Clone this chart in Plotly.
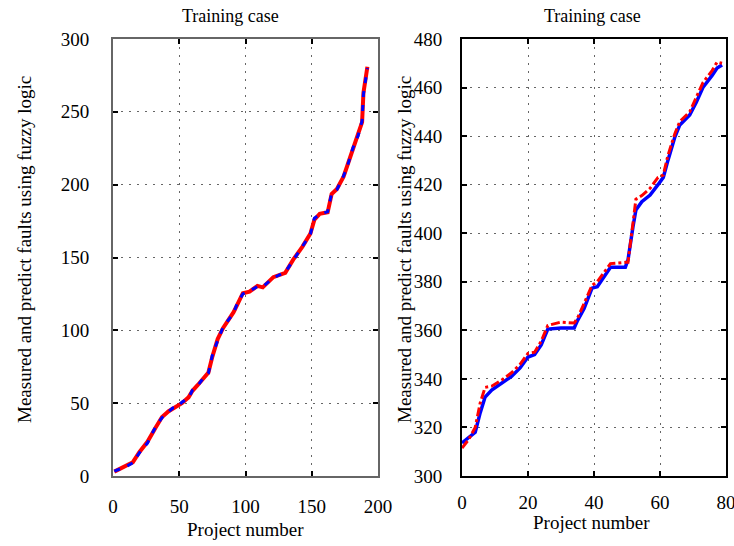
import plotly.graph_objects as go

# ---- Left panel (training case, 0-200) ----
left_x = [1, 9, 15, 20, 26, 32, 37, 42, 45, 48, 52, 57, 60, 64, 68, 72, 75, 79, 83,
          91, 94, 98, 103, 109, 113, 121, 130, 136, 143, 149, 152, 156, 162, 165,
          169, 174, 177, 181, 185, 188, 189, 192]
left_meas = [3.4, 6, 9, 16, 22.6, 33.6, 40, 44, 46.6, 46.6, 50.7, 53.4, 59, 62, 67,
             70.5, 83, 93, 102, 112, 119, 125, 127, 130, 130, 136, 140, 148, 158,
             166, 177, 179.5, 181.5, 194, 196.6, 206, 213, 225, 233.6, 244, 262, 280]
left_pred = [3.0, 6.5, 9.5, 16.5, 23.5, 33, 40.5, 44.5, 46, 47.5, 50, 54, 58.5, 62.5,
             66.5, 71, 82, 94, 101.5, 112.5, 118, 125.5, 126.5, 130.5, 129.5, 136.5,
             139.5, 148.5, 157.5, 166.5, 176, 180, 181, 193.5, 197, 205.5, 213.5,
             224, 234, 243, 263, 281]

# ---- Right panel (training case, 0-80) ----
right_x = [0, 2, 4, 5.5, 7, 9, 12, 15, 17.6, 20, 22, 24, 26, 30, 34, 35, 37, 39.4,
           41, 43, 45, 49.5, 50.3, 51.8, 52.7, 54.5, 57, 59.4, 61, 62.4, 64.5, 66,
           69, 71, 73, 75.8, 77.3, 78.8]
right_meas = [313.6, 316, 318, 326, 332.5, 335.4, 338.3, 341, 344.5, 349, 350, 354,
              360.5, 361, 361, 364, 369, 377.4, 378, 382, 386, 386, 389, 402.6,
              409.6, 413, 415.7, 420, 423, 430, 439.6, 444.6, 448.7, 454, 460, 465,
              468, 469.3]
right_pred = [311.5, 315, 320, 330, 336.5, 337, 339.5, 342.5, 346, 350.5, 351, 355.5,
              362, 363.4, 363, 365, 371, 378.5, 380, 384, 387.5, 388, 388, 404, 414,
              415.5, 418.5, 423, 424, 432, 441, 446, 450, 456, 462, 467, 470.5, 470]

left_xticks = [0, 50, 100, 150, 200]
left_yticks = [0, 50, 100, 150, 200, 250, 300]
right_xticks = [0, 20, 40, 60, 80]
right_yticks = [300, 320, 340, 360, 380, 400, 420, 440, 460, 480]

title_text = "Training case"
ytitle_text = "Measured and predict faults using fuzzy logic"
xtitle_text = "Project number"

SERIF = "Liberation Serif, Times New Roman, serif"
W, H = 734, 546

fig = go.Figure()
fig.add_trace(go.Scatter(x=left_x, y=left_pred, mode="lines",
                         line=dict(color="#ff0000", width=4), xaxis="x", yaxis="y",
                         showlegend=False))
fig.add_trace(go.Scatter(x=left_x, y=left_meas, mode="lines",
                         line=dict(color="#0000ff", width=3, dash="6px,8px"), xaxis="x", yaxis="y",
                         showlegend=False))
fig.add_trace(go.Scatter(x=right_x, y=right_meas, mode="lines",
                         line=dict(color="#0000ff", width=3.5), xaxis="x2", yaxis="y2",
                         showlegend=False))
fig.add_trace(go.Scatter(x=right_x, y=right_pred, mode="lines",
                         line=dict(color="#ff0000", width=3, dash="dashdot"), xaxis="x2", yaxis="y2",
                         showlegend=False))

def ax(domain, rng, ticks, anchor, color, standoff):
    return dict(domain=domain, range=rng, tickvals=ticks, anchor=anchor,
                showgrid=True, gridcolor="#666666", griddash="2px,6px", gridwidth=1,
                showline=True, linecolor=color, linewidth=2, mirror="ticks",
                ticks="inside", ticklen=5, tickcolor="#000000", tickwidth=1.5,
                zeroline=False, automargin=False, ticklabelstandoff=standoff,
                ticklabeloverflow="allow",
                tickfont=dict(family=SERIF, size=19, color="#000000"))

def px_x(x):
    return x / W

def px_y(y):
    return 1 - y / H

xd1 = [px_x(113), px_x(378)]
xd2 = [px_x(462), px_x(726)]
yd = [px_y(476), px_y(39)]

fig.update_layout(
    width=W, height=H, margin=dict(l=0, r=0, t=0, b=0, pad=0, autoexpand=False),
    paper_bgcolor="white", plot_bgcolor="white",
    xaxis=ax(xd1, [0, 200], left_xticks, "y", "#666666", 12),
    yaxis=ax(yd, [0, 300], left_yticks, "x", "#666666", 18),
    xaxis2=ax(xd2, [0, 80], right_xticks, "y2", "#000000", 8),
    yaxis2=ax(yd, [300, 480], right_yticks, "x2", "#000000", 14),
)

def ann(text, x, y, angle=0, size=18):
    fig.add_annotation(text=text, x=px_x(x), y=px_y(y), xref="paper", yref="paper",
                       showarrow=False, textangle=angle, xanchor="center", yanchor="middle",
                       font=dict(family=SERIF, size=size, color="#000000"))

ann(title_text, 230, 16, size=18)
ann(title_text, 592, 16, size=18)
ann(ytitle_text, 25, 250, angle=-90, size=19)
ann(ytitle_text, 405, 250, angle=-90, size=19)
ann(xtitle_text, 245, 529, size=19)
ann(xtitle_text, 591, 522, size=19)

fig.write_html(
    "out.html",
    config={"displayModeBar": False},
    post_script="document.body.style.margin='0';document.body.style.overflow='hidden';",
)
